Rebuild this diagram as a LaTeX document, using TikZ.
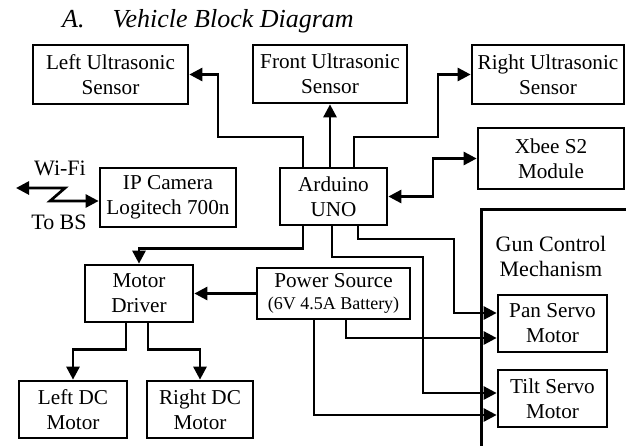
\documentclass[tikz,border=0pt]{standalone}
\usepackage{fontspec}
\setmainfont{Liberation Serif}
\usetikzlibrary{arrows.meta}

\begin{document}
\begin{tikzpicture}[
        x=1pt, y=-1pt,
        block/.style={draw, line width=2.7pt, rectangle, inner sep=0pt, align=center, font=\fontsize{21.2}{25}\selectfont},
        label text/.style={inner sep=0pt, align=center, font=\fontsize{22}{25}\selectfont},
        link/.style={line width=2.7pt, -{Triangle[length=13pt, width=13pt]}},
        both/.style={line width=2.7pt, {Triangle[length=13pt, width=13pt]}-{Triangle[length=13pt, width=13pt]}}
    ]
        \useasboundingbox (0,0) rectangle (626,445);
        \clip (0,0) rectangle (626,445);

        \node[anchor=base west, inner sep=0pt, font=\fontsize{26}{30}\selectfont\itshape] (title) at (62,27)
        {A.\hspace{28pt}Vehicle Block Diagram};

        % sensors and radio
        \node[block, minimum width=155pt, minimum height=59pt] (lus) at (110.5,74.5) {Left Ultrasonic\\Sensor};
        \node[block, minimum width=154pt, minimum height=58pt] (fus) at (330,74) {Front Ultrasonic\\Sensor};
        \node[block, minimum width=152pt, minimum height=59pt] (rus) at (548,74.5) {Right Ultrasonic\\Sensor};
        \node[block, minimum width=146pt, minimum height=61pt] (xbee) at (551,158.5) {Xbee S2\\Module};

        \node[block, minimum width=107pt, minimum height=57pt] (ard) at (333.5,196.5) {Arduino\\UNO};
        \node[block, minimum width=136pt, minimum height=59pt] (cam) at (168,197.5) {IP Camera\\Logitech 700n};

        % drive
        \node[block, minimum width=108pt, minimum height=57pt] (mdrv) at (139,293.5) {Motor\\Driver};
        \node[block, minimum width=153pt, minimum height=51pt] (pwr) at (333.5,293.5)
        {Power Source\\[-3pt]{\fontsize{18}{21}\selectfont (6V 4.5A Battery)}};
        \node[block, minimum width=108pt, minimum height=57pt] (ldc) at (73,409.5) {Left DC\\Motor};
        \node[block, minimum width=106pt, minimum height=57pt] (rdc) at (200,409.5) {Right DC\\Motor};

        % gun control
        \node[block, anchor=north west, minimum width=190pt, minimum height=280pt] (gun) at (480,208) {};
        \node[label text] (guntxt) at (551,256) {Gun Control\\Mechanism};
        \node[block, minimum width=109pt, minimum height=57pt] (pan) at (552.5,323.5) {Pan Servo\\Motor};
        \node[block, minimum width=109pt, minimum height=57pt] (tilt) at (552.5,398.5) {Tilt Servo\\Motor};

        % wireless link
        \coordinate (bs) at (16,188);
        \coordinate (zig) at (65,188);
        \coordinate (zag) at (50,201);
        \node[label text] (wifi) at (60,168) {Wi-Fi};
        \node[label text] (tobs) at (59,222) {To BS};
        \draw[both] (bs) -- (zig) -- (zag) -- (zag -| cam.west);

        \draw[link] ([xshift=-30.5pt]ard.north) |- (218,137) |- (lus.east);
        \draw[link] (fus.south |- ard.north) -- (fus.south);
        \draw[link] ([xshift=20.5pt]ard.north) |- (438,137) |- (rus.west);
        \draw[both] (ard.east) -| (433,158.5) -- (xbee.west);

        \draw[link] ([xshift=-30.5pt]ard.south) -- ++(0,22) -| (mdrv.north);
        \draw[link] (pwr.west) -- (mdrv.east);
        \draw[link] ([xshift=-13pt]mdrv.south) -- ++(0,26) -| (ldc.north);
        \draw[link] ([xshift=9pt]mdrv.south) -- ++(0,26) -| (rdc.north);

        \draw[link] ([xshift=24.5pt]ard.south) |- (454,239) |- ([yshift=10.5pt]pan.west);
        \draw[link] ([xshift=12.5pt]pwr.south) |- ([yshift=-14.5pt]pan.west);
        \draw[link] ([xshift=-1.5pt]ard.south) |- (423,257) |- ([yshift=5.5pt]tilt.west);
        \draw[link] ([xshift=-19.5pt]pwr.south) |- ([yshift=-16.5pt]tilt.west);
    \end{tikzpicture}
\end{document}
